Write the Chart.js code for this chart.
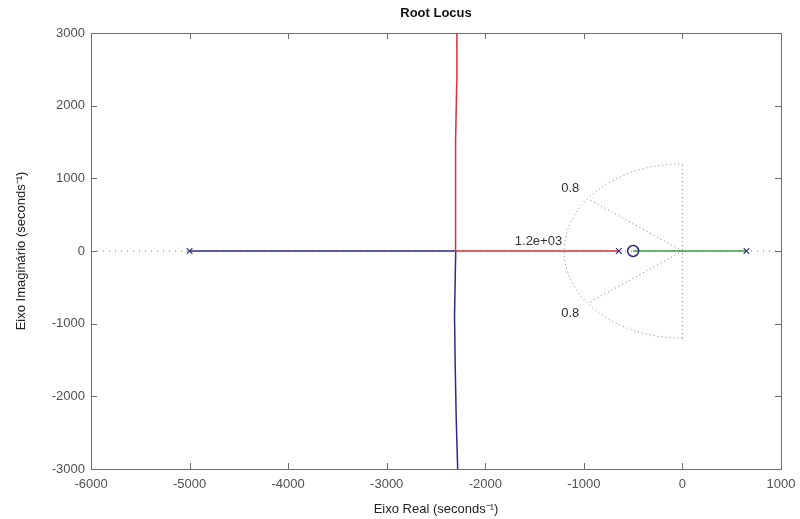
<!DOCTYPE html>
<html>
<head>
<meta charset="utf-8">
<script src="https://cdn.jsdelivr.net/npm/chart.js@4"></script>
<style>
  body { margin: 0; background: #fff; }
</style>
</head>
<body>
<canvas id="rlocus" width="800" height="519"></canvas>
<script>
// branch data (real, imaginary)
const blueRe = [-5000, -2300, -2312, -2305, -2295, -2280];
const blueIm = [0, 0, -900, -1600, -2300, -3000];
const redRe = [-645, -2300, -2305, -2298, -2290, -2288];
const redIm = [0, 0, 600, 1500, 2300, 3000];
const greenRe = [650, -500];
const greenIm = [0, 0];
const polesRe = [-5000, -645, 650];
const zerosRe = [-500];

// grid: damping 0.8, natural freq 1.2e+03
const gridWn = 1200;
const zetaLineRe = [0, -960];
const zetaLineIm = [0, 720];
const xTicks = [-6000, -5000, -4000, -3000, -2000, -1000, 0, 1000];
const yTicks = [-3000, -2000, -1000, 0, 1000, 2000, 3000];

const axisGrey = '#6e6e6e';
const textGrey = '#505050';
const dotGrey = '#7a7a7a';
const tickFont = { family: 'Liberation Sans', size: 13 };

const pts = (re, im) => re.map((r, i) => ({ x: r, y: im[i] }));

const frame = {
  id: 'frame',
  beforeDatasetsDraw(chart) {
    // wn circle (left half) drawn through the scales
    const { ctx, scales: { x, y } } = chart;
    const cx = x.getPixelForValue(0), cy = y.getPixelForValue(0);
    const rx = cx - x.getPixelForValue(-gridWn);
    const ry = y.getPixelForValue(-gridWn) - cy;
    ctx.save();
    ctx.strokeStyle = dotGrey;
    ctx.lineWidth = 1;
    ctx.setLineDash([1, 3]);
    ctx.beginPath();
    ctx.ellipse(cx, cy, rx, ry, 0, Math.PI / 2, Math.PI * 1.5);
    ctx.stroke();
    ctx.restore();
  },
  afterDraw(chart) {
    const { ctx, chartArea: a, scales: { x, y } } = chart;
    ctx.save();
    ctx.strokeStyle = axisGrey;
    ctx.lineWidth = 1;
    ctx.strokeRect(a.left + 0.5, a.top + 0.5, a.right - a.left, a.bottom - a.top);
    ctx.beginPath();
    xTicks.forEach(v => {
      const px = Math.round(x.getPixelForValue(v)) + 0.5;
      ctx.moveTo(px, a.bottom); ctx.lineTo(px, a.bottom - 6);
      ctx.moveTo(px, a.top); ctx.lineTo(px, a.top + 6);
    });
    yTicks.forEach(v => {
      const py = Math.round(y.getPixelForValue(v)) + 0.5;
      ctx.moveTo(a.left, py); ctx.lineTo(a.left + 6, py);
      ctx.moveTo(a.right, py); ctx.lineTo(a.right - 6, py);
    });
    ctx.stroke();

    // title + axis labels
    const midX = (a.left + a.right) / 2;
    ctx.fillStyle = '#111';
    ctx.textAlign = 'center';
    ctx.textBaseline = 'middle';
    ctx.font = 'bold 13px "Liberation Sans"';
    ctx.fillText('Root Locus', midX, 13);
    ctx.fillStyle = '#222';
    ctx.font = '13px "Liberation Sans"';
    ctx.fillText('Eixo Real (seconds\u207B\u00B9)', midX, 509);
    ctx.translate(21, (a.top + a.bottom) / 2);
    ctx.rotate(-Math.PI / 2);
    ctx.fillText('Eixo Imaginário (seconds\u207B\u00B9)', 0, 0);
    ctx.restore();

    // grid annotations
    ctx.save();
    ctx.fillStyle = '#333';
    ctx.font = '13px "Liberation Sans"';
    ctx.textBaseline = 'middle';
    ctx.textAlign = 'right';
    ctx.fillText('1.2e+03', x.getPixelForValue(-gridWn) - 2, y.getPixelForValue(130));
    ctx.textAlign = 'left';
    ctx.fillText('0.8', x.getPixelForValue(-1230), y.getPixelForValue(860));
    ctx.fillText('0.8', x.getPixelForValue(-1230), y.getPixelForValue(-860));
    ctx.restore();
  }
};

new Chart(document.getElementById('rlocus'), {
  type: 'scatter',
  data: {
    datasets: [{
      data: pts(polesRe, polesRe.map(() => 0)),
      pointStyle: 'crossRot',
      pointRadius: 4,
      borderColor: '#2f2f86',
      borderWidth: 1.2,
      showLine: false
    }, {
      data: pts(zerosRe, [0]),
      pointStyle: 'circle',
      pointRadius: 5.5,
      borderColor: '#2a2a80',
      backgroundColor: 'rgba(0,0,0,0)',
      borderWidth: 1.5,
      showLine: false
    }, {
      data: pts(redRe, redIm),
      borderColor: '#d8303c',
      borderWidth: 1.5,
      showLine: true,
      pointRadius: 0
    }, {
      data: pts(blueRe, blueIm),
      borderColor: '#2c2c8c',
      borderWidth: 1.5,
      showLine: true,
      pointRadius: 0
    }, {
      data: pts(greenRe, greenIm),
      borderColor: '#3b9a3b',
      borderWidth: 1.5,
      showLine: true,
      pointRadius: 0
    }, {
      data: pts(zetaLineRe, zetaLineIm),
      borderColor: dotGrey,
      borderWidth: 1,
      borderDash: [1, 3],
      showLine: true,
      pointRadius: 0
    }, {
      data: pts(zetaLineRe, zetaLineIm.map(v => -v)),
      borderColor: dotGrey,
      borderWidth: 1,
      borderDash: [1, 3],
      showLine: true,
      pointRadius: 0
    }, {
      data: pts([0, 0], [-gridWn, gridWn]),
      borderColor: dotGrey,
      borderWidth: 1,
      borderDash: [1, 3],
      showLine: true,
      pointRadius: 0
    }, {
      data: pts([-6000, 1000], [0, 0]),
      borderColor: dotGrey,
      borderWidth: 1,
      borderDash: [1, 5],
      showLine: true,
      pointRadius: 0
    }]
  },
  options: {
    responsive: false,
    animation: false,
    layout: { padding: { top: 33, right: 19, left: 0, bottom: 0 } },
    plugins: { legend: { display: false }, tooltip: { enabled: false } },
    scales: {
      x: {
        type: 'linear',
        min: -6000, max: 1000,
        afterFit: s => { s.height = 50; s.paddingLeft = 0; s.paddingRight = 0; },
        afterBuildTicks: s => { s.ticks = xTicks.map(v => ({ value: v })); },
        grid: { display: false, drawTicks: false },
        border: { display: false },
        ticks: { color: textGrey, font: tickFont, padding: 8, maxRotation: 0, callback: v => String(v) }
      },
      y: {
        type: 'linear',
        min: -3000, max: 3000,
        afterFit: s => { s.width = 91; s.paddingTop = 0; s.paddingBottom = 0; },
        afterBuildTicks: s => { s.ticks = yTicks.map(v => ({ value: v })); },
        grid: { display: false, drawTicks: false },
        border: { display: false },
        ticks: { color: textGrey, font: tickFont, padding: 6, callback: v => String(v) }
      }
    }
  },
  plugins: [frame]
});
</script>
</body>
</html>
